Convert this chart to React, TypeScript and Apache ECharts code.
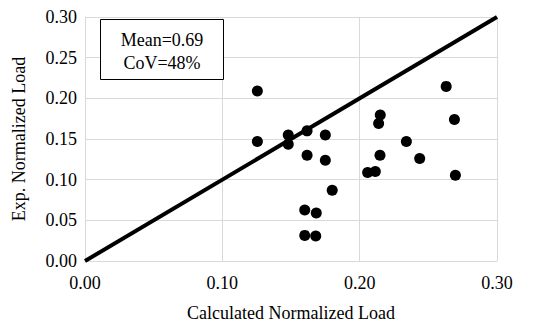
import React, { useEffect, useRef } from "react";
import * as echarts from "echarts";

const xTicks = [0, 0.1, 0.2, 0.3];
const yTicks = [0, 0.05, 0.1, 0.15, 0.2, 0.25, 0.3];
const calcLoad = [
  0.1255, 0.1255, 0.148, 0.148, 0.1617, 0.1617, 0.175, 0.175, 0.18, 0.16, 0.1684, 0.16, 0.168,
  0.2058, 0.2114, 0.2148, 0.215, 0.2138, 0.234, 0.2437, 0.263, 0.269, 0.2697,
];
const expLoad = [
  0.209, 0.147, 0.155, 0.1435, 0.16, 0.13, 0.155, 0.124, 0.087, 0.0627, 0.059, 0.0315, 0.0307,
  0.1088, 0.11, 0.13, 0.1796, 0.169, 0.147, 0.126, 0.2147, 0.174, 0.1055,
];
const equalityLine = [
  [0, 0],
  [0.3, 0.3],
];
const statsLines = ["Mean=0.69", "CoV=48%"];

const FONT = "'Liberation Serif', 'Times New Roman', serif";

export default function App() {
  const ref = useRef<HTMLDivElement>(null);
  useEffect(() => {
    if (!ref.current) return;
    const chart = echarts.init(ref.current, undefined, { renderer: "svg" });
    const points = calcLoad.map((x, i) => [x, expLoad[i]]);
    chart.setOption({
      animation: false,
      textStyle: { fontFamily: FONT },
      grid: { left: 85, right: 46, top: 17, bottom: 63, containLabel: false },
      xAxis: {
        type: "value",
        min: xTicks[0],
        max: xTicks[xTicks.length - 1],
        interval: 0.1,
        name: "Calculated Normalized Load",
        nameLocation: "middle",
        nameGap: 43,
        nameTextStyle: { fontFamily: FONT, fontSize: 18, color: "#000" },
        axisLine: { lineStyle: { color: "#d9d9d9", width: 1 } },
        axisTick: { show: false },
        axisLabel: {
          fontFamily: FONT,
          fontSize: 18,
          color: "#000",
          margin: 13,
          formatter: (v: number) => v.toFixed(2),
        },
        splitLine: { show: true, lineStyle: { color: "#d9d9d9", width: 1 } },
      },
      yAxis: {
        type: "value",
        min: yTicks[0],
        max: yTicks[yTicks.length - 1],
        interval: 0.05,
        name: "Exp. Normalized Load",
        nameLocation: "middle",
        nameGap: 57,
        nameTextStyle: { fontFamily: FONT, fontSize: 18, color: "#000" },
        axisLine: { show: true, lineStyle: { color: "#d9d9d9", width: 1 } },
        axisTick: { show: false },
        axisLabel: {
          fontFamily: FONT,
          fontSize: 18,
          color: "#000",
          margin: 8,
          formatter: (v: number) => v.toFixed(2),
        },
        splitLine: { show: true, lineStyle: { color: "#d9d9d9", width: 1 } },
      },
      series: [
        {
          type: "line",
          data: equalityLine,
          symbol: "none",
          lineStyle: { color: "#000", width: 4 },
          clip: true,
          z: 2,
        },
        {
          type: "scatter",
          data: points,
          symbol: "circle",
          symbolSize: 11,
          itemStyle: { color: "#000", opacity: 1 },
          z: 3,
        },
      ],
      graphic: [
        {
          type: "rect",
          shape: { x: 100.5, y: 19.5, width: 123, height: 60 },
          style: { fill: "#fff", stroke: "#000", lineWidth: 1 },
          z: 10,
        },
        {
          type: "text",
          x: 162,
          y: 40,
          style: {
            text: statsLines[0],
            fontFamily: FONT,
            fontSize: 18,
            fill: "#000",
            align: "center",
            verticalAlign: "middle",
          },
          z: 11,
        },
        {
          type: "text",
          x: 162,
          y: 63,
          style: {
            text: statsLines[1],
            fontFamily: FONT,
            fontSize: 18,
            fill: "#000",
            align: "center",
            verticalAlign: "middle",
          },
          z: 11,
        },
      ],
    });
    return () => chart.dispose();
  }, []);
  return (
    <div
      ref={ref}
      style={{ position: "absolute", left: 0, top: 0, width: 543, height: 327 }}
    />
  );
}
